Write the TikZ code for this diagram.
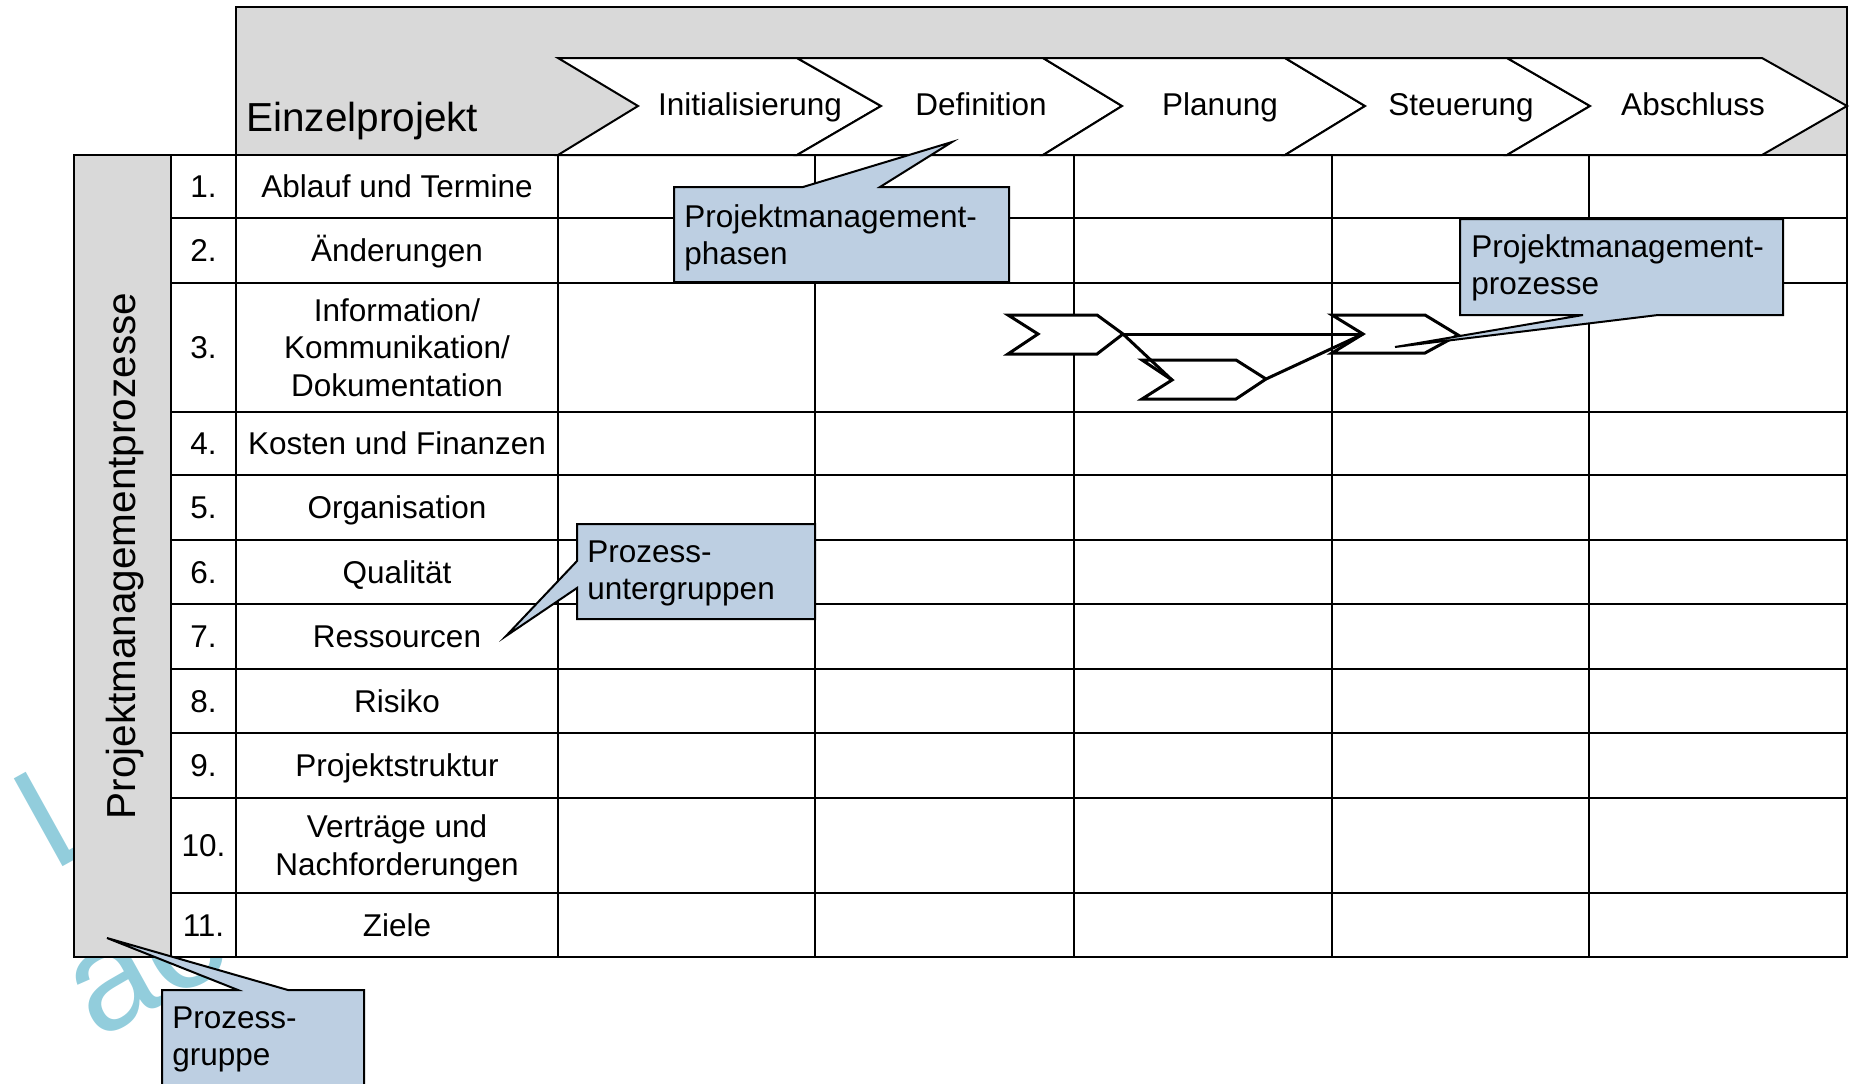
\documentclass[tikz,border=0pt]{standalone}
\usepackage{fontspec}
\setmainfont{Liberation Sans}
\definecolor{hdrgrey}{RGB}{217,217,217}
\definecolor{callblue}{RGB}{189,207,226}
\definecolor{wmark}{RGB}{146,205,220}
\begin{document}
\begin{tikzpicture}[x=0.5pt,y=-0.5pt,
  gridline/.style={line width=1pt},
  phasebox/.style={fill=white,draw=black,line width=1pt},
  procbox/.style={fill=white,draw=black,line width=1.5pt},
  proclink/.style={draw=black,line width=1.5pt},
  callout/.style={fill=callblue,draw=black,line width=1pt},
  celltext/.style={font=\fontsize{15.75}{18.75}\selectfont,align=center,anchor=base,inner sep=0pt},
  calltext/.style={font=\fontsize{15.75}{18.25}\selectfont,align=left,anchor=base west,inner sep=0pt},
  wm/.style={text=wmark,font=\fontsize{73}{80}\selectfont,inner sep=0pt,rotate=29,anchor=base west}]
\useasboundingbox (0,0) rectangle (1850,1083);
\clip (0,0) rectangle (1850,1083);

% watermark lettering behind everything
\node[wm] (wmL) at (52,873) {L};
\node[wm] (wmA) at (97,1041) {ao};

% grey header and grey side bar
\filldraw[fill=hdrgrey,gridline] (236,7) rectangle (1847,155);
\filldraw[fill=hdrgrey,gridline] (74,155) rectangle (171,957);

% table body
\filldraw[fill=white,gridline] (171,155) rectangle (1847,957);
\foreach \y in {218,283,412,475,540,604,669,733,798,893}
  \draw[gridline] (171,\y) -- (1847,\y);
\foreach \x in {236,558,815,1074,1332,1589}
  \draw[gridline] (\x,155) -- (\x,957);

% phase chevrons
\foreach \a/\b/\c/\n in {558/797/881/638,797/1043/1122/881,1043/1285/1365/1122,1285/1507/1590/1365,1507/1762/1847/1590}
  \draw[phasebox] (\a,58) -- (\b,58) -- (\c,106) -- (\b,155) -- (\a,155) -- (\n,106) -- cycle;

% headings
\node[font=\fontsize{20.25}{24}\selectfont,anchor=base west,inner sep=0pt] (title) at (246,131) {Einzelprojekt};
\node[font=\fontsize{20.25}{24}\selectfont,anchor=base,inner sep=0pt,rotate=90] (group) at (135,556) {Projektmanagementprozesse};

\node[celltext] (ph1) at (750,115) {Initialisierung};
\node[celltext] (ph2) at (981,115) {Definition};
\node[celltext] (ph3) at (1220,115) {Planung};
\node[celltext] (ph4) at (1461,115) {Steuerung};
\node[celltext] (ph5) at (1693,115) {Abschluss};

% row numbers
\node[celltext] (n1) at (203.5,197.5) {1.};
\node[celltext] (n2) at (203.5,261.5) {2.};
\node[celltext] (n3) at (203.5,358.5) {3.};
\node[celltext] (n4) at (203.5,454.5) {4.};
\node[celltext] (n5) at (203.5,518.5) {5.};
\node[celltext] (n6) at (203.5,583) {6.};
\node[celltext] (n7) at (203.5,647.5) {7.};
\node[celltext] (n8) at (203.5,712) {8.};
\node[celltext] (n9) at (203.5,776.5) {9.};
\node[celltext] (n10) at (203.5,856.5) {10.};
\node[celltext] (n11) at (203.5,936) {11.};

% process sub-group names (multi-line nodes sit on their last baseline)
\node[celltext] (r1) at (397,197.5) {Ablauf und Termine};
\node[celltext] (r2) at (397,261.5) {Änderungen};
\node[celltext] (r3) at (397,396) {Information/\\Kommunikation/\\Dokumentation};
\node[celltext] (r4) at (397,454.5) {Kosten und Finanzen};
\node[celltext] (r5) at (397,518.5) {Organisation};
\node[celltext] (r6) at (397,583) {Qualität};
\node[celltext] (r7) at (397,647.5) {Ressourcen};
\node[celltext] (r8) at (397,712) {Risiko};
\node[celltext] (r9) at (397,776.5) {Projektstruktur};
\node[celltext] (r10) at (397,875) {Verträge und\\Nachforderungen};
\node[celltext] (r11) at (397,936) {Ziele};

% small process chevrons in row 3
\coordinate (aTip) at (1123,334);
\coordinate (bNotch) at (1172,380);
\coordinate (bTip) at (1266,379);
\coordinate (cNotch) at (1363,334);
\draw[procbox] (1008,315) -- (1097,315) -- (aTip) -- (1097,354) -- (1008,354) -- (1038,334) -- cycle;
\draw[procbox] (1142,360) -- (1236,360) -- (bTip) -- (1236,399) -- (1142,399) -- (bNotch) -- cycle;
\draw[procbox] (1332,315) -- (1425,315) -- (1458,335) -- (1425,353) -- (1332,353) -- (cNotch) -- cycle;
\draw[proclink] (aTip) -- (cNotch);
\draw[proclink] (aTip) -- (bNotch);
\draw[proclink] (bTip) -- (cNotch);

% callouts
\draw[callout] (674,187) -- (803,187) -- (952,142) -- (880,187) -- (1009,187) -- (1009,282) -- (674,282) -- cycle;
\node[calltext] (c1) at (684,264) {Projektmanagement-\\phasen};

\draw[callout] (1460,219) -- (1783,219) -- (1783,315) -- (1658,315) -- (1395,347) -- (1583,315) -- (1460,315) -- cycle;
\node[calltext] (c2) at (1471,294) {Projektmanagement-\\prozesse};

\draw[callout] (577,524) -- (815,524) -- (815,619) -- (577,619) -- (577,588) -- (506,636) -- (577,561) -- cycle;
\node[calltext] (c3) at (587,599) {Prozess-\\untergruppen};

\draw[callout] (162,990) -- (238,990) -- (107,938) -- (288,990) -- (364,990) -- (364,1110) -- (162,1110) -- cycle;
\node[calltext] (c4) at (172,1065) {Prozess-\\gruppe};
\end{tikzpicture}
\end{document}
